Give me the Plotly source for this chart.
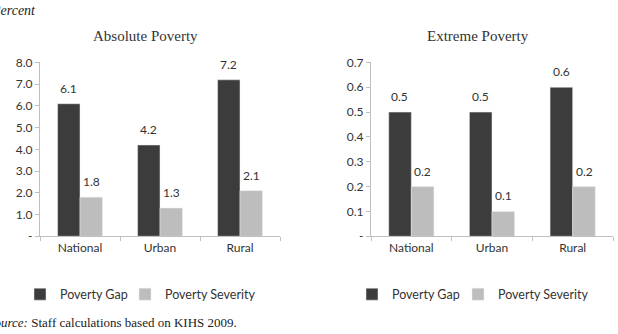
import plotly.graph_objects as go

categories = ["National", "Urban", "Rural"]
abs_gap = [6.1, 4.2, 7.2]
abs_sev = [1.8, 1.3, 2.1]
ext_gap = [0.5, 0.5, 0.6]
ext_sev = [0.2, 0.1, 0.2]
abs_ticks = [0, 1, 2, 3, 4, 5, 6, 7, 8]
abs_ticktext = ["-", "1.0", "2.0", "3.0", "4.0", "5.0", "6.0", "7.0", "8.0"]
ext_ticks = [0, 0.1, 0.2, 0.3, 0.4, 0.5, 0.6, 0.7]
ext_ticktext = ["-", "0.1", "0.2", "0.3", "0.4", "0.5", "0.6", "0.7"]

DARK = "#3c3c3c"
LIGHT = "#bdbdbd"
AXC = "#bfbfbf"
TXT = "#333333"
SANS = "Lato, 'Open Sans', sans-serif"
SERIF = "'Liberation Serif', 'DejaVu Serif', serif"

W, H = 618, 334
fig = go.Figure()

fig.add_trace(go.Bar(x=categories, y=abs_gap, name="Poverty Gap", marker_color=DARK,
                     xaxis="x", yaxis="y", legend="legend", offsetgroup="a", legendwidth=60))
fig.add_trace(go.Bar(x=categories, y=abs_sev, name="Poverty Severity", marker_color=LIGHT,
                     xaxis="x", yaxis="y", legend="legend", offsetgroup="b", legendwidth=110))
fig.add_trace(go.Bar(x=categories, y=ext_gap, name="Poverty Gap", marker_color=DARK,
                     xaxis="x2", yaxis="y2", legend="legend2", offsetgroup="a", legendwidth=61))
fig.add_trace(go.Bar(x=categories, y=ext_sev, name="Poverty Severity", marker_color=LIGHT,
                     xaxis="x2", yaxis="y2", legend="legend2", offsetgroup="b", legendwidth=110))

ann = []
def labels(vals, xa, ya, shift):
    for c, v in zip(categories, vals):
        ann.append(dict(x=c, y=v, xref=xa, yref=ya, text=f"{v:.1f}", showarrow=False,
                        xshift=shift, yshift=6, yanchor="bottom",
                        font=dict(family=SANS, size=12, color=TXT)))
labels(abs_gap, "x", "y", -11.5)
labels(abs_sev, "x", "y", 11.5)
labels(ext_gap, "x2", "y2", -11.5)
labels(ext_sev, "x2", "y2", 11.5)

ann.append(dict(x=145 / W, y=1 - 29 / H, xref="paper", yref="paper", text="Absolute Poverty",
                showarrow=False, xanchor="center", yanchor="middle",
                font=dict(family=SERIF, size=15, color="#333333")))
ann.append(dict(x=478 / W, y=1 - 29 / H, xref="paper", yref="paper", text="Extreme Poverty",
                showarrow=False, xanchor="center", yanchor="middle",
                font=dict(family=SERIF, size=15, color="#333333")))
ann.append(dict(x=-11 / W, y=1 - 2.5 / H, xref="paper", yref="paper", text="<i>Percent</i>",
                showarrow=False, xanchor="left", yanchor="middle",
                font=dict(family=SERIF, size=14, color="#222222")))
ann.append(dict(x=-14 / W, y=1 - 329 / H, xref="paper", yref="paper",
                text="<i>Source:</i> Staff calculations based on KIHS 2009.",
                showarrow=False, xanchor="left", yanchor="middle",
                font=dict(family=SERIF, size=13, color="#222222")))

ydom = [1 - 239 / H, 1 - 57 / H]
xaxis_common = dict(type="category", showline=True, linecolor=AXC, linewidth=1.3,
                    ticks="outside", tickson="boundaries", tickcolor=AXC, ticklen=4,
                    showgrid=False, tickfont=dict(family=SANS, size=12, color=TXT))
yaxis_common = dict(showline=True, linecolor=AXC, linewidth=1.3, ticks="outside", tickcolor=AXC,
                    ticklen=4, showgrid=False, zeroline=False,
                    tickfont=dict(family=SANS, size=12, color=TXT), domain=ydom)

legend_font = dict(family=SANS, size=12.5, color=TXT)
fig.update_layout(
    width=W, height=H, margin=dict(l=0, r=0, t=0, b=0),
    paper_bgcolor="white", plot_bgcolor="white",
    barmode="group", bargap=0.44, bargroupgap=0,
    xaxis=dict(xaxis_common, domain=[40 / W, 280 / W], anchor="y"),
    yaxis=dict(yaxis_common, anchor="x", range=[0, 8], tickvals=abs_ticks, ticktext=abs_ticktext),
    xaxis2=dict(xaxis_common, domain=[371 / W, 613 / W], anchor="y2"),
    yaxis2=dict(yaxis_common, anchor="x2", range=[0, 0.7], tickvals=ext_ticks, ticktext=ext_ticktext),
    legend=dict(orientation="h", x=20 / W, y=1 - 300 / H, xanchor="left", yanchor="middle",
                font=legend_font, itemwidth=30, entrywidthmode="pixels",
                bgcolor="rgba(0,0,0,0)"),
    legend2=dict(orientation="h", x=352 / W, y=1 - 300 / H, xanchor="left", yanchor="middle",
                 font=legend_font, itemwidth=30, entrywidthmode="pixels",
                 bgcolor="rgba(0,0,0,0)"),
    annotations=ann,
)

fig.write_html("out.html",
               post_script="document.documentElement.style.margin='0';"
                           "document.body.style.margin='0';document.body.style.overflow='hidden';")
